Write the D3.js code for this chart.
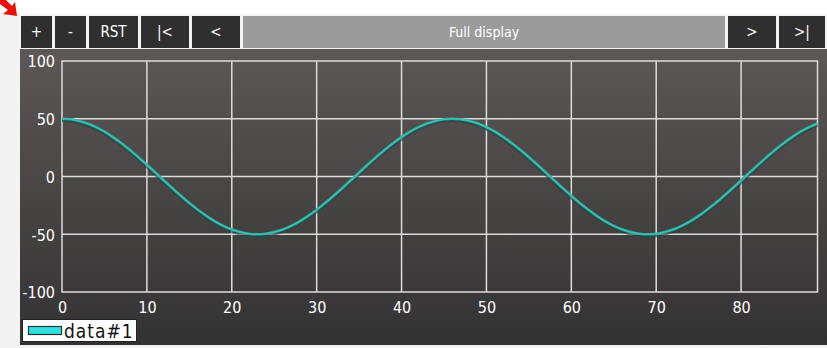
<!DOCTYPE html>
<html><head><meta charset="utf-8">
<script src="https://cdn.jsdelivr.net/npm/d3@7"></script>
<style>
html,body{margin:0;padding:0;background:#f4f4f4;}
svg{display:block;}
</style></head>
<body>
<svg id="c" width="827" height="348"></svg>
<script>
// ---- data ----
const xValues = d3.range(0, 90);
const series1 = [50.0,49.5,48.1,45.9,42.7,38.8,34.1,28.8,23.0,16.7,10.2,3.4,-3.4,-10.2,-16.7,-23.0,-28.8,-34.1,-38.8,-42.7,-45.9,-48.1,-49.5,-50.0,
-49.5,-48.1,-45.9,-42.7,-38.8,-34.1,-28.8,-23.0,-16.7,-10.2,-3.4,3.4,10.2,16.7,23.0,28.8,34.1,38.8,42.7,45.9,48.1,49.5,50.0,
49.5,48.1,45.9,42.7,38.8,34.1,28.8,23.0,16.7,10.2,3.4,-3.4,-10.2,-16.7,-23.0,-28.8,-34.1,-38.8,-42.7,-45.9,-48.1,-49.5,-50.0,
-49.5,-48.1,-45.9,-42.7,-38.8,-34.1,-28.8,-23.0,-16.7,-10.2,-3.4,3.4,10.2,16.7,23.0,28.8,34.1,38.8,42.7,45.9];
const xTicks = [0,10,20,30,40,50,60,70,80];
const yTicks = [-100,-50,0,50,100];
const seriesName = "data#1";
const buttons = [
  {label:"+", x0:21, x1:52},
  {label:"-", x0:55, x1:86},
  {label:"RST", x0:89, x1:138},
  {label:"|<", x0:141, x1:189},
  {label:"<", x0:192, x1:240},
  {label:"Full display", x0:243, x1:725, wide:true},
  {label:">", x0:728, x1:776},
  {label:">|", x0:779, x1:825}
];

const svg = d3.select("#c");
const defs = svg.append("defs");
const g1 = defs.append("linearGradient").attr("id","bg").attr("x1",0).attr("y1",0).attr("x2",0).attr("y2",1);
g1.append("stop").attr("offset","0%").attr("stop-color","#5d5757");
g1.append("stop").attr("offset","100%").attr("stop-color","#333232");

// page bg
svg.append("rect").attr("x",0).attr("y",0).attr("width",827).attr("height",348).attr("fill","#f3f3f3");
svg.append("rect").attr("x",0).attr("y",0).attr("width",827).attr("height",14).attr("fill","#ffffff");
// red arrow mark
svg.append("path").attr("d","M0,0 L6,0 L12,6 L15,2 L17,16 L3,14 L8,10 L0,4 Z").attr("fill","#e8100a");

const narrow = "'Liberation Sans Narrow','Arial Narrow','DejaVu Sans Condensed',sans-serif";

// buttons
const bt = svg.append("g");
buttons.forEach(b=>{
  bt.append("rect").attr("x",b.x0).attr("y",16).attr("width",b.x1-b.x0).attr("height",32)
    .attr("fill", b.wide ? "#9b9b9b" : "#2f2f2f");
  bt.append("text").attr("x",(b.x0+b.x1)/2).attr("y",37).attr("text-anchor","middle")
    .attr("fill","#ffffff").attr("font-family","'DejaVu Sans Condensed','DejaVu Sans',sans-serif")
    .attr("font-size", b.wide ? 14 : 15).attr("font-weight", 300).text(b.label);
});

// panel
svg.append("rect").attr("x",20).attr("y",49).attr("width",807).attr("height",296).attr("fill","url(#bg)");

const x = d3.scaleLinear().domain([0,89]).range([62,817.5]);
const y = d3.scaleLinear().domain([-100,100]).range([292,61]);

// grid
const grid = svg.append("g").attr("stroke","#dcdcdc").attr("stroke-width",1.5);
xTicks.filter(t=>t>0).forEach(t=>{
  grid.append("line").attr("x1",x(t)).attr("x2",x(t)).attr("y1",y(100)).attr("y2",y(-100));
});
yTicks.filter(t=>t>-100 && t<100).forEach(t=>{
  grid.append("line").attr("x1",x(0)).attr("x2",x(89)).attr("y1",y(t)).attr("y2",y(t));
});
svg.append("rect").attr("x",x(0)).attr("y",y(100)).attr("width",x(89)-x(0)).attr("height",y(-100)-y(100))
  .attr("fill","none").attr("stroke","#dcdcdc").attr("stroke-width",1.5);

// axes labels via d3 axes
const yAxis = svg.append("g").attr("transform",`translate(${x(0)-7},0)`)
  .call(d3.axisLeft(y).tickValues(yTicks).tickSize(0).tickPadding(0).tickFormat(d=> d<0 ? "-"+Math.abs(d) : d));
yAxis.select(".domain").remove();
yAxis.selectAll("text").attr("fill","#ffffff").attr("font-family",narrow).attr("font-size",16).attr("dy","0.36em");

const xAxis = svg.append("g").attr("transform",`translate(0,${y(-100)+8})`)
  .call(d3.axisBottom(x).tickValues(xTicks).tickSize(0).tickPadding(0));
xAxis.select(".domain").remove();
xAxis.selectAll("text").attr("fill","#ffffff").attr("font-family",narrow).attr("font-size",16).attr("dy","0.8em");

// line
const line = d3.line().x((d,i)=>x(xValues[i])).y(d=>y(d)).curve(d3.curveCatmullRom);
svg.append("path").datum(series1).attr("d",line).attr("fill","none")
  .attr("stroke","#1c4a48").attr("stroke-width",4).attr("stroke-opacity",0.6).attr("transform","translate(0,1.5)");
svg.append("path").datum(series1).attr("d",line).attr("fill","none")
  .attr("stroke","#2ab3a2").attr("stroke-width",2.6);
svg.append("path").datum(series1).attr("d",line).attr("fill","none")
  .attr("stroke","#6fd8cc").attr("stroke-width",0.8).attr("stroke-opacity",0.5);

// legend
const lg = svg.append("g");
lg.append("rect").attr("x",22.5).attr("y",319.5).attr("width",114).attr("height",22).attr("fill","#ffffff").attr("stroke","#222").attr("stroke-width",1);
lg.append("rect").attr("x",28.5).attr("y",326.5).attr("width",33).attr("height",8).attr("fill","#33dede").attr("stroke","#1a3a3a").attr("stroke-width",1.2);
lg.append("text").attr("x",64).attr("y",338).attr("fill","#111").attr("font-family",narrow).attr("font-size",19)
  .attr("letter-spacing","1").text(seriesName);
</script>
</body></html>
